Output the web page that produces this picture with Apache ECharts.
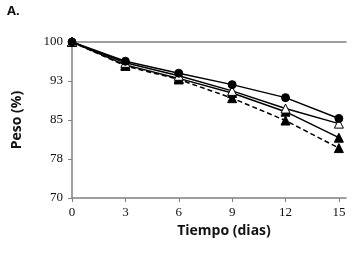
<!DOCTYPE html>
<html>
<head>
<meta charset="utf-8">
<script src="https://cdn.jsdelivr.net/npm/echarts@6/dist/echarts.min.js"></script>
<style>
  html, body { margin: 0; padding: 0; background: #fff; }
  #chart { width: 359px; height: 256px; }
</style>
</head>
<body>
<div id="chart"></div>
<script>
const days = [0, 3, 6, 9, 12, 15]
const serieCirculo = [100, 96.3, 94.0, 91.8, 89.3, 85.3]
const serieTrianguloAbierto = [100, 96.0, 93.5, 90.6, 87.2, 84.3]
const serieTrianguloLleno = [100, 95.6, 93.0, 90.2, 86.6, 81.6]
const serieDiscontinua = [100, 95.4, 92.8, 89.2, 84.9, 79.6]

const chart = echarts.init(document.getElementById('chart'))

function pts(vals){
    return days.map((d, i) => [d, vals[i]])
}

const labelFont = {
    fontFamily: 'Liberation Serif',
    fontSize: 13,
    color: '#111'
}

function lineSerie(vals, symbol, size, fill, dashed){
    return {
        type: 'line',
        data: pts(vals),
        symbol: symbol,
        symbolSize: size,
        showAllSymbol: true,
        lineStyle: { color: '#000', width: 1.5, type: dashed ? [5, 3] : 'solid' },
        itemStyle: { color: fill, borderColor: '#000', borderWidth: 1 },
        animation: false
    }
}

let option = {
    backgroundColor: '#fff',
    graphic: [
        {
            type: 'text', left: 7, top: 5,
            style: { text: 'A.', font: 'bold 13px "Open Sans"', fill: '#111' }
        }
    ],
    grid: { left: 72, right: 13, top: 42, bottom: 58 },
    xAxis: [
        {
            type: 'value',
            min: 0,
            max: 15.4,
            name: 'Tiempo (dias)',
            nameLocation: 'middle',
            nameGap: 19,
            nameTextStyle: { fontFamily: 'Open Sans', fontWeight: 'bold', fontSize: 14, color: '#111', padding: [0, 0, 0, 30] },
            axisLine: { lineStyle: { color: '#808080', width: 1.5 } },
            axisTick: { show: true, customValues: days, length: 4, lineStyle: { color: '#808080' } },
            axisLabel: Object.assign({ customValues: days, margin: 8 }, labelFont),
            splitLine: { show: false }
        },
        {
            type: 'value',
            position: 'top',
            min: 0,
            max: 15.4,
            axisLine: { show: true, lineStyle: { color: '#808080', width: 1.5 } },
            axisTick: { show: false },
            axisLabel: { show: false },
            splitLine: { show: false }
        }
    ],
    yAxis: {
        type: 'value',
        min: 70,
        max: 100,
        interval: 7.5,
        name: 'Peso (%)',
        nameLocation: 'middle',
        nameGap: 48,
        nameTextStyle: { fontFamily: 'Open Sans', fontWeight: 'bold', fontSize: 14, color: '#111' },
        axisLine: { show: true, lineStyle: { color: '#808080', width: 1.5 } },
        axisTick: { show: true, length: 4, lineStyle: { color: '#808080' } },
        axisLabel: Object.assign({
            margin: 9,
            formatter: v => String(Math.round(v))
        }, labelFont),
        splitLine: { show: false }
    },
    series: [
        lineSerie(serieDiscontinua, 'triangle', 9, '#000', true),
        lineSerie(serieTrianguloLleno, 'triangle', 9, '#000', false),
        lineSerie(serieTrianguloAbierto, 'triangle', 9, '#fff', false),
        lineSerie(serieCirculo, 'circle', 8, '#000', false)
    ]
}

chart.setOption(option)
</script>
</body>
</html>
